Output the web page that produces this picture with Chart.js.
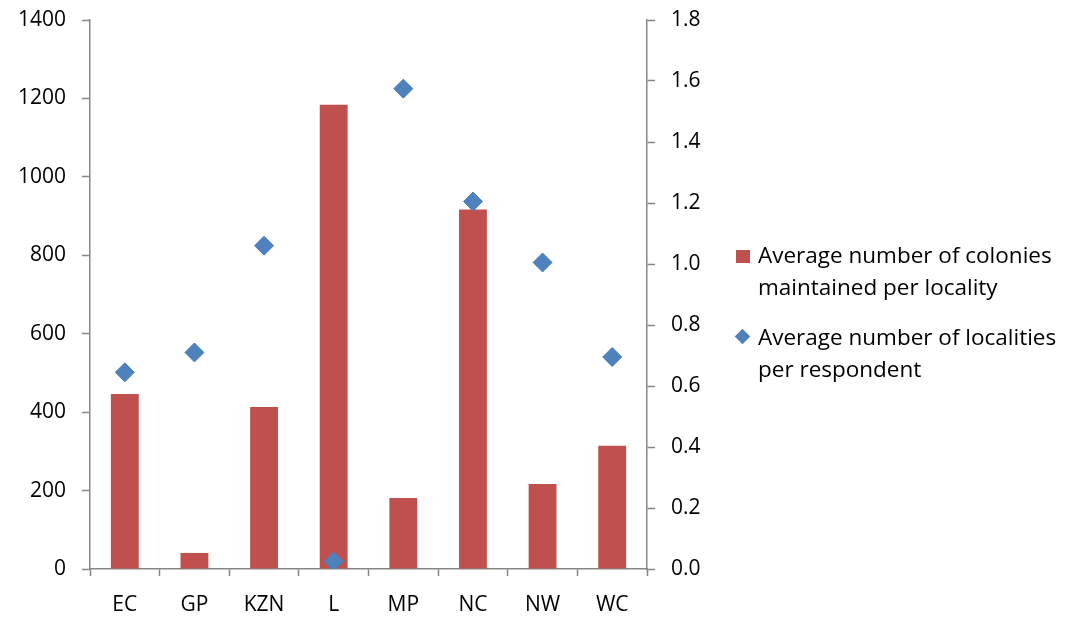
<!DOCTYPE html>
<html>
<head>
<meta charset="utf-8">
<script src="https://cdn.jsdelivr.net/npm/chart.js@4/dist/chart.umd.min.js"></script>
<style>
  html, body { margin: 0; padding: 0; background: #fff; }
  #wrap { position: relative; width: 1071px; height: 617px; }
  #chart { position: absolute; left: 0; top: 0; }
  .legend { position: absolute; left: 736px; font-family: "Open Sans", Lato, sans-serif; font-size: 22.5px; color: #000; line-height: 32px; white-space: nowrap; }
  .legend .item { position: relative; padding-left: 22px; }
  .legend .sw { position: absolute; left: 0; }
</style>
</head>
<body>
<div id="wrap">
  <canvas id="chart" width="1071" height="617"></canvas>
  <div class="legend" style="top:239px">
    <div class="item"><span class="sw" style="top:11px;width:14px;height:13px;background:#C0504D"></span>Average number of colonies<br>maintained per locality</div>
  </div>
  <div class="legend" style="top:321px">
    <div class="item"><span class="sw" style="top:10px;left:1px;width:11px;height:11px;background:#4F81BD;transform:rotate(45deg)"></span>Average number of localities<br>per respondent</div>
  </div>
</div>
<script>
// data
const kategori = ["EC", "GP", "KZN", "L", "MP", "NC", "NW", "WC"];
const koloniPerLokasi = [446, 41, 413, 1184, 181, 917, 217, 314];
const lokasiPerResponden = [0.645, 0.71, 1.06, 0.025, 1.575, 1.205, 1.005, 0.695];

const abu = "#868686";
const huruf = { family: "'Open Sans', Lato, sans-serif", size: 21 };

// paksa lebar sumbu dan buang padding otomatis label
function pasSumbu(lebar) {
  return s => { s.width = lebar; s.paddingTop = 0; s.paddingBottom = 0; };
}

new Chart(document.getElementById("chart"), {
  data: {
    labels: kategori,
    datasets: [
      {
        type: "scatter",
        label: "Average number of localities per respondent",
        data: lokasiPerResponden,
        yAxisID: "y2",
        pointStyle: "rectRot",
        pointRadius: 9.5,
        backgroundColor: "#4F81BD",
        borderColor: "#4A7EBB",
        borderWidth: 1,
        showLine: false
      },
      {
        type: "bar",
        label: "Average number of colonies maintained per locality",
        data: koloniPerLokasi,
        yAxisID: "y",
        backgroundColor: "#C0504D",
        barPercentage: 0.4,
        categoryPercentage: 1
      }
    ]
  },
  options: {
    responsive: false,
    animation: false,
    layout: { padding: { top: 20, left: 0, right: 0, bottom: 0 } },
    plugins: { legend: { display: false }, tooltip: { enabled: false } },
    scales: {
      x: {
        type: "category",
        offset: true,
        grid: { offset: true, drawOnChartArea: false, color: abu, tickLength: 7, tickWidth: 1.5 },
        border: { color: abu, width: 1.5 },
        ticks: { color: "#000", font: huruf, padding: 16, maxRotation: 0 },
        afterFit: s => { s.height = 48; s.paddingLeft = 0; s.paddingRight = 0; }
      },
      y: {
        position: "left",
        min: 0, max: 1400,
        ticks: { stepSize: 200, color: "#000", font: huruf, padding: 16, callback: v => String(v) },
        grid: { drawOnChartArea: false, color: abu, tickLength: 8, tickWidth: 1.5 },
        border: { color: abu, width: 1.5 },
        afterFit: pasSumbu(90)
      },
      y2: {
        position: "right",
        min: 0, max: 1.8,
        ticks: { stepSize: 0.2, color: "#000", font: huruf, padding: 16,
                 callback: v => Number(v).toFixed(1) },
        grid: { drawOnChartArea: false, color: abu, tickLength: 8, tickWidth: 1.5 },
        border: { color: abu, width: 1.5 },
        afterFit: pasSumbu(424)
      }
    }
  }
});
</script>
</body>
</html>
